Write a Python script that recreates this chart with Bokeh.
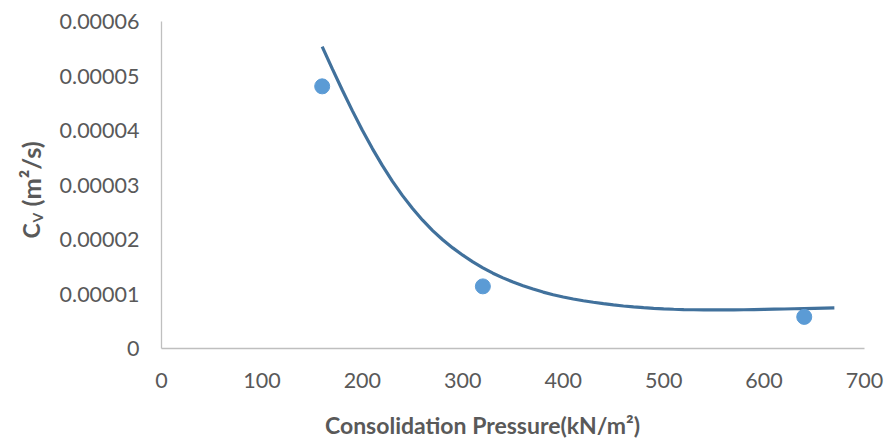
import math
from bokeh.plotting import figure
from bokeh.models import FixedTicker, CustomJSTickFormatter, Label, Range1d, ColumnDataSource
from bokeh.embed import file_html
from bokeh.resources import INLINE

# measured points
pressure = [160, 320, 640]
cv = [0.0000481, 0.0000114, 0.0000058]

# trendline (x in kN/m2, y in 1e-5 m2/s)
trend_x = [160, 170, 180, 190, 200, 210, 220, 230, 240, 250, 260, 270, 280, 290, 300,
           310, 320, 330, 340, 350, 360, 370, 380, 390, 400, 410, 420, 430, 440, 450,
           460, 470, 480, 490, 500, 510, 520, 530, 540, 550, 560, 570, 580, 590, 600,
           610, 620, 630, 640, 650, 660, 670]
trend_y_e5 = [5.540, 5.135, 4.743, 4.365, 4.005, 3.668, 3.355, 3.068, 2.805, 2.568, 2.354,
              2.164, 1.996, 1.846, 1.712, 1.590, 1.480, 1.382, 1.296, 1.220, 1.152, 1.091,
              1.035, 0.987, 0.945, 0.908, 0.876, 0.848, 0.822, 0.800, 0.780, 0.763, 0.749,
              0.737, 0.727, 0.720, 0.715, 0.711, 0.709, 0.708, 0.708, 0.709, 0.711, 0.714,
              0.717, 0.721, 0.725, 0.729, 0.733, 0.737, 0.741, 0.745]
trend_y = [v * 1e-5 for v in trend_y_e5]

x_ticks = [0, 100, 200, 300, 400, 500, 600, 700]
y_ticks = [0, 0.00001, 0.00002, 0.00003, 0.00004, 0.00005, 0.00006]
x_min, x_max = 0, 700
y_min, y_max = 0, 0.00006

TEXT = "#595959"
FONT = "Lato"

W, H = 886, 441
# pixel layout of the plotting area inside the canvas
L, R, T, B = 161, 864, 21, 348
xs = (x_max - x_min) / (R - L)
ys = (y_max - y_min) / (B - T)

p = figure(width=W, height=H, output_backend="svg", toolbar_location=None,
           x_range=Range1d(x_min - L * xs, x_max + (W - R) * xs),
           y_range=Range1d(y_min - (H - B) * ys, y_max + T * ys))
p.min_border = 0
p.min_border_left = 0
p.min_border_right = 0
p.min_border_top = 0
p.min_border_bottom = 0
p.outline_line_color = None
p.xgrid.grid_line_color = None
p.ygrid.grid_line_color = None
p.background_fill_color = "white"
p.border_fill_color = "white"

p.xaxis.fixed_location = y_min
p.yaxis.fixed_location = x_min
p.xaxis.bounds = (x_min, x_max)
p.yaxis.bounds = (y_min, y_max)

for ax in (p.xaxis[0], p.yaxis[0]):
    ax.axis_line_color = "#BFBFBF"
    ax.axis_line_width = 1.3
    ax.major_tick_line_color = None
    ax.minor_tick_line_color = None
    ax.major_tick_out = 0
    ax.major_tick_in = 0
    ax.major_label_text_font = FONT
    ax.major_label_text_font_size = "21.5px"
    ax.major_label_text_color = TEXT
p.yaxis.major_label_standoff = 22
p.xaxis.major_label_standoff = 24

p.xaxis.ticker = FixedTicker(ticks=x_ticks)
p.yaxis.ticker = FixedTicker(ticks=y_ticks)
p.yaxis.formatter = CustomJSTickFormatter(code="return tick == 0 ? '0' : tick.toFixed(5);")

src_t = ColumnDataSource(dict(x=trend_x, y=trend_y))
p.line("x", "y", source=src_t, line_color="#41719C", line_width=3.2)
src_p = ColumnDataSource(dict(x=pressure, y=cv))
p.scatter("x", "y", source=src_p, size=15, fill_color="#5B9BD5", line_color="#5B9BD5")

# x axis title
p.add_layout(Label(x=482, y=17, x_units="screen", y_units="screen",
                   text="Consolidation Pressure(kN/m\u00b2)", text_align="center",
                   text_baseline="alphabetic", text_font=FONT, text_font_style="bold",
                   text_font_size="23px", text_color=TEXT))

# y axis title: C with subscript V, then (m²/s), rotated
rot = math.pi / 2
p.add_layout(Label(x=30, y=203, x_units="screen", y_units="screen", angle=rot,
                   text="C", text_align="left", text_baseline="alphabetic",
                   text_font=FONT, text_font_style="bold", text_font_size="23px", text_color=TEXT))
p.add_layout(Label(x=37, y=219, x_units="screen", y_units="screen", angle=rot,
                   text="V", text_align="left", text_baseline="alphabetic",
                   text_font=FONT, text_font_style="bold", text_font_size="14px", text_color=TEXT))
p.add_layout(Label(x=30, y=235, x_units="screen", y_units="screen", angle=rot,
                   text="(m\u00b2/s)", text_align="left", text_baseline="alphabetic",
                   text_font=FONT, text_font_style="bold", text_font_size="25.5px", text_color=TEXT))

open("out.html", "w").write(file_html(p, INLINE))
